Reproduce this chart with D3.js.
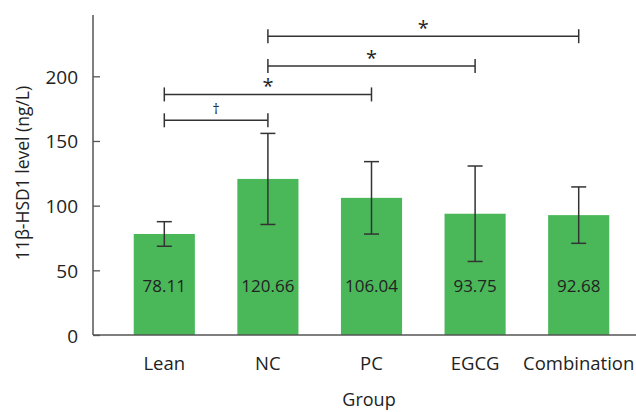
<!DOCTYPE html>
<html>
<head>
<meta charset="utf-8">
<script src="https://cdn.jsdelivr.net/npm/d3@7"></script>
<style>
  html, body { margin: 0; padding: 0; background: #fff; }
  svg { display: block; font-family: "Open Sans", "Noto Sans", sans-serif; }
</style>
</head>
<body>
<svg id="chart" width="636" height="412"></svg>
<script>
// ---- data ----
const categories = ["Lean", "NC", "PC", "EGCG", "Combination"];
const means = [78.11, 120.66, 106.04, 93.75, 92.68];
const errors = [9.5, 35.2, 28.0, 36.9, 21.8];
const yTicks = [0, 50, 100, 150, 200];
// significance brackets: [from, to, symbol, level]
const bracketFrom = ["Lean", "Lean", "NC", "NC"];
const bracketTo = ["NC", "PC", "EGCG", "Combination"];
const bracketSymbol = ["\u2020", "*", "*", "*"];
const bracketLevel = [166, 186, 208, 231];
const yTitle = "11\u03b2-HSD1 level (ng/L)";
const xTitle = "Group";

// ---- layout ----
const svg = d3.select("#chart");
const axisX = 93, baseY = 335, topY = 15;

const y = d3.scaleLinear().domain([0, 247.4]).range([baseY, topY]);
const x = d3.scaleBand().domain(categories).range([112.5, 630.5])
  .paddingInner(0.41).paddingOuter(0.205);
const cx = c => x(c) + x.bandwidth() / 2;

const axisColor = "#555";
const inkColor = "#333";
const barColor = "#4ab859";

// bars
svg.append("g").selectAll("rect").data(categories).join("rect")
  .attr("x", c => x(c))
  .attr("width", x.bandwidth())
  .attr("y", (c, i) => y(means[i]))
  .attr("height", (c, i) => y(0) - y(means[i]))
  .attr("fill", barColor);

// value labels
svg.append("g").selectAll("text").data(categories).join("text")
  .attr("x", c => cx(c))
  .attr("y", y(0) - 43)
  .attr("text-anchor", "middle")
  .attr("font-size", 17)
  .attr("fill", "#222")
  .text((c, i) => means[i].toFixed(2));

// error bars
const eb = svg.append("g").attr("stroke", inkColor).attr("stroke-width", 1.5);
categories.forEach((c, i) => {
  const hi = y(means[i] + errors[i]), lo = y(means[i] - errors[i]);
  eb.append("line").attr("x1", cx(c)).attr("x2", cx(c)).attr("y1", hi).attr("y2", lo);
  eb.append("line").attr("x1", cx(c) - 7.5).attr("x2", cx(c) + 7.5).attr("y1", hi).attr("y2", hi);
  eb.append("line").attr("x1", cx(c) - 7.5).attr("x2", cx(c) + 7.5).attr("y1", lo).attr("y2", lo);
});

// y axis
const yAxis = d3.axisRight(y).tickValues(yTicks).tickSize(7).tickFormat("");
const gy = svg.append("g").attr("transform", `translate(${axisX},0)`).call(yAxis);
gy.select(".domain").remove();
gy.selectAll(".tick line").attr("stroke", axisColor).attr("stroke-width", 1.3);
svg.append("line").attr("x1", axisX).attr("x2", axisX).attr("y1", topY).attr("y2", baseY)
  .attr("stroke", axisColor).attr("stroke-width", 1.5);
svg.append("g").selectAll("text").data(yTicks).join("text")
  .attr("x", 78).attr("y", d => y(d) + 7.5)
  .attr("text-anchor", "end").attr("font-size", 19).attr("fill", "#222")
  .text(d => d);

// x axis line
svg.append("line").attr("x1", axisX).attr("x2", 636).attr("y1", baseY).attr("y2", baseY)
  .attr("stroke", axisColor).attr("stroke-width", 1.5);

// category labels
svg.append("g").selectAll("text").data(categories).join("text")
  .attr("x", c => cx(c)).attr("y", 370)
  .attr("text-anchor", "middle").attr("font-size", 18.5).attr("fill", "#222")
  .text(c => c);

// axis titles
svg.append("text").attr("x", 369).attr("y", 406)
  .attr("text-anchor", "middle").attr("font-size", 18).attr("fill", "#222").text(xTitle);
svg.append("text").attr("transform", `translate(29,173) rotate(-90)`)
  .attr("text-anchor", "middle").attr("font-size", 17.5).attr("fill", "#222").text(yTitle);

// significance brackets
const br = svg.append("g");
bracketFrom.forEach((f, i) => {
  const x1 = cx(f), x2 = cx(bracketTo[i]), yy = y(bracketLevel[i]);
  const g = br.append("g").attr("stroke", inkColor).attr("stroke-width", 1.5);
  g.append("line").attr("x1", x1).attr("x2", x2).attr("y1", yy).attr("y2", yy);
  g.append("line").attr("x1", x1).attr("x2", x1).attr("y1", yy - 7).attr("y2", yy + 7);
  g.append("line").attr("x1", x2).attr("x2", x2).attr("y1", yy - 7).attr("y2", yy + 7);
  const sym = bracketSymbol[i];
  br.append("text").attr("x", (x1 + x2) / 2)
    .attr("y", sym === "*" ? yy - 1 : yy - 6)
    .attr("text-anchor", "middle")
    .attr("font-size", sym === "*" ? 20 : 14)
    .attr("fill", "#222")
    .text(sym);
});
</script>
</body>
</html>
